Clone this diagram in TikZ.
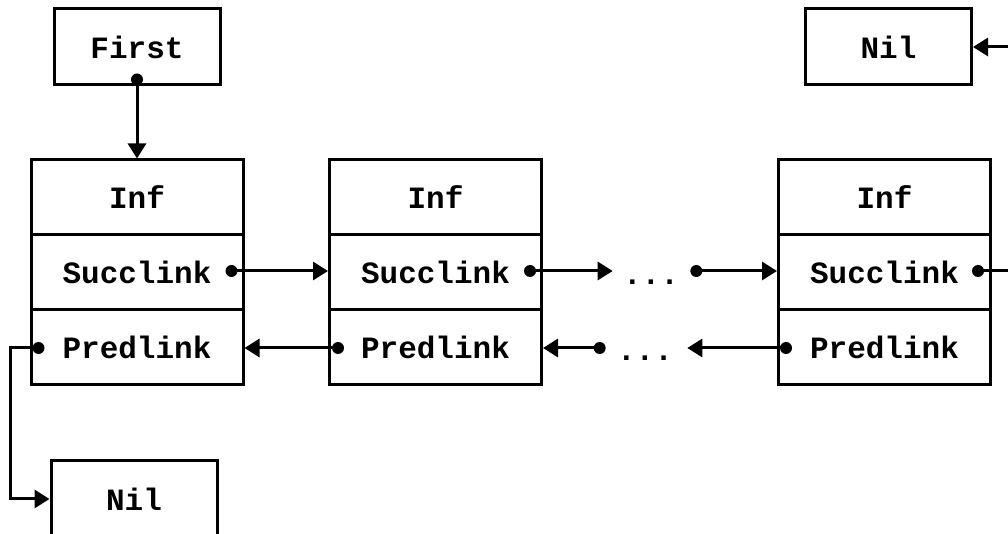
\documentclass[tikz,border=0pt]{standalone}
\usepackage{fontspec}
\newfontfamily\codefont{Liberation Mono}
\usetikzlibrary{arrows.meta,calc}
\tikzset{
  cell/.style={draw,line width=1.5pt,inner sep=0pt,minimum width=106pt,minimum height=37.5pt,
    font=\codefont\bfseries\fontsize{15.5pt}{18pt}\selectfont},
  tag/.style={cell,minimum width=83pt,minimum height=38pt},
  ellip/.style={inner sep=2pt,font=\codefont\bfseries\fontsize{15.5pt}{18pt}\selectfont},
  link/.style={line width=1.5pt,-{Triangle[length=7.5pt,width=9pt]}},
  wire/.style={line width=1.5pt},
  dot/.style={fill=black}
}
\begin{document}
\begin{tikzpicture}[x=0.5pt,y=-0.5pt]
\useasboundingbox (0,0) rectangle (1008,534);
\clip (0,0) rectangle (1008,534);

% head pointer and the two nil markers
\node[tag] (first) at (137,47) {First};
\node[tag] (niltop) at (888.5,47) {Nil};
\node[tag] (nilbot) at (134,499) {Nil};

% three list elements, each with Inf / Succlink / Predlink fields
\foreach \n/\x in {1/137,2/435.5,3/884.5}{
  \node[cell] (i\n) at (\x,197.5) {Inf};
  \node[cell] (s\n) at (\x,272.5) {Succlink};
  \node[cell] (p\n) at (\x,347.5) {Predlink};
}

% ellipses between the second and last element
\node[ellip,anchor=base] (du) at (651,285) {...};
\node[ellip,anchor=base] (dl) at (645,361) {...};

% pointer origins
\coordinate (f0) at ($(first.south)+(0,-7)$);
\coordinate (s1d) at ($(s1.east)+(-13,-1.5)$);
\coordinate (s2d) at ($(s2.east)+(-13,-1.5)$);
\coordinate (dud) at ($(du.east)+(13,0)$);
\coordinate (s3d) at ($(s3.east)+(-14,-1.5)$);
\coordinate (p1d) at ($(p1.west)+(9,0.5)$);
\coordinate (p2d) at ($(p2.west)+(10,0.5)$);
\coordinate (p3d) at ($(p3.west)+(9,0.5)$);
\coordinate (dld) at ($(dl.west)+(-13,0)$);
\coordinate (outr) at (1030,47);
\coordinate (bend1) at (10,348);
\coordinate (bend2) at (10,499);

% successor links
\draw[link] (f0) -- (i1.north);
\draw[link] (s1d) -- (s1d -| s2.west);
\draw[link] (s2d) -- ($(s2d -| du.west)+(-6,0)$);
\coordinate (dud) at ($(s2d -| du.east)+(13,0)$);
\draw[link] (dud) -- (dud -| s3.west);
\draw[wire] (s3d) -- (s3d -| outr);
\draw[link] (outr) -- (niltop.east);

% predecessor links
\draw[link] (p2d) -- (p2d -| p1.east);
\coordinate (dld) at ($(p3d -| dl.west)+(-13,0)$);
\draw[link] (dld) -- (dld -| p2.east);
\draw[link] (p3d) -- ($(p3d -| dl.east)+(10,0)$);
\draw[link] (p1d) -- (p1d -| bend1) -- (bend2) -- (nilbot.west);

% pointer dots
\foreach \c in {f0,s1d,s2d,dud,s3d,p1d,p2d,p3d,dld}
  \fill[dot] (\c) circle (3pt);
\end{tikzpicture}
\end{document}
